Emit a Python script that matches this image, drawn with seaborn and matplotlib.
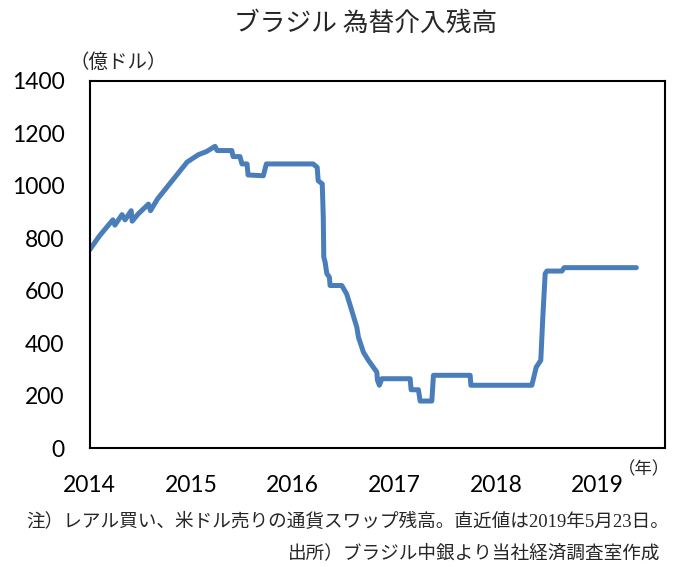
import matplotlib
matplotlib.use("Agg")
import matplotlib.pyplot as plt
from matplotlib.ticker import MultipleLocator
import pandas as pd
import seaborn as sns

# ── data ────────────────────────────────────────────────────────────────────
years = [2014.00, 2014.10, 2014.23, 2014.25, 2014.32, 2014.35, 2014.41, 2014.42,
         2014.48, 2014.58, 2014.60, 2014.67, 2014.96, 2015.07, 2015.15, 2015.235,
         2015.256, 2015.40, 2015.413, 2015.48, 2015.50, 2015.55, 2015.56, 2015.71,
         2015.74, 2016.20, 2016.24, 2016.25, 2016.29, 2016.30, 2016.305, 2016.318,
         2016.335, 2016.36, 2016.367, 2016.482, 2016.53, 2016.58, 2016.63, 2016.646,
         2016.695, 2016.744, 2016.827, 2016.833, 2016.852, 2016.876, 2017.155, 2017.164,
         2017.236, 2017.253, 2017.368, 2017.384, 2017.745, 2017.752, 2018.352, 2018.395,
         2018.44, 2018.46, 2018.483, 2018.50, 2018.648, 2018.67, 2019.38]
balance = [755, 810, 870, 850, 890, 870, 905, 865,
           893, 930, 905, 950, 1090, 1118, 1130, 1150,
           1134, 1134, 1111, 1111, 1083, 1083, 1041, 1038,
           1083, 1083, 1070, 1019, 1007, 880, 728, 709,
           665, 652, 620, 620, 588, 525, 461, 423,
           366, 335, 290, 259, 240, 265, 265, 223,
           223, 180, 180, 278, 278, 240, 240, 309,
           335, 500, 665, 675, 675, 688, 688]
year_ticks = [2014, 2015, 2016, 2017, 2018, 2019]
y_ticks = [0, 200, 400, 600, 800, 1000, 1200, 1400]

title = "ブラジル 為替介入残高"
unit_label = "（億ドル）"
year_label = "（年）"
note = "注）レアル買い、米ドル売りの通貨スワップ残高。直近値は2019年5月23日。"
source = "出所）ブラジル中銀より当社経済調査室作成"

df = pd.DataFrame({"year": years, "balance": balance})

sns.set_style("white")
plt.rcParams["font.family"] = ["Noto Sans CJK JP", "DejaVu Sans"]

W, H = 673, 567
fig = plt.figure(figsize=(W / 100, H / 100), dpi=100)
ax = fig.add_axes([89.5 / W, 1 - 448.3 / H, (665.3 - 89.5) / W, (448.3 - 80.7) / H])

sns.lineplot(data=df, x="year", y="balance", ax=ax, color="#4a7ebb",
             linewidth=3.6, estimator=None, sort=False, solid_capstyle="round")

ax.set_xlim(2014, 2019.665)
ax.set_ylim(0, 1400)
ax.set_xticks(year_ticks)
ax.set_xticklabels([str(y) for y in year_ticks])
ax.xaxis.set_minor_locator(MultipleLocator(0.5))
ax.set_yticks(y_ticks)
ax.set_xlabel("")
ax.set_ylabel("")

for s in ax.spines.values():
    s.set_color("black")
    s.set_linewidth(1.5)

ax.tick_params(axis="both", which="both", direction="in", length=3.5, width=1.2,
               colors="black", labelsize=16.5)
ax.tick_params(axis="x", which="major", pad=19)
ax.tick_params(axis="y", pad=18)
for lab in ax.get_xticklabels() + ax.get_yticklabels():
    lab.set_family(["Lato", "DejaVu Sans"])

fig.text(366 / W, 1 - 24 / H, title, ha="center", va="center", fontsize=18.5)
fig.text(118 / W, 1 - 62 / H, unit_label, ha="center", va="center", fontsize=14)
fig.text(670 / W, 1 - 469 / H, year_label, ha="right", va="center", fontsize=12.5)
fig.text(26 / W, 1 - 522 / H, note, ha="left", va="center", fontsize=13.4,
         family=["Liberation Serif", "Noto Sans CJK JP"])
fig.text(660 / W, 1 - 553 / H, source, ha="right", va="center", fontsize=13.4)

fig.savefig("out.png", dpi=100)
